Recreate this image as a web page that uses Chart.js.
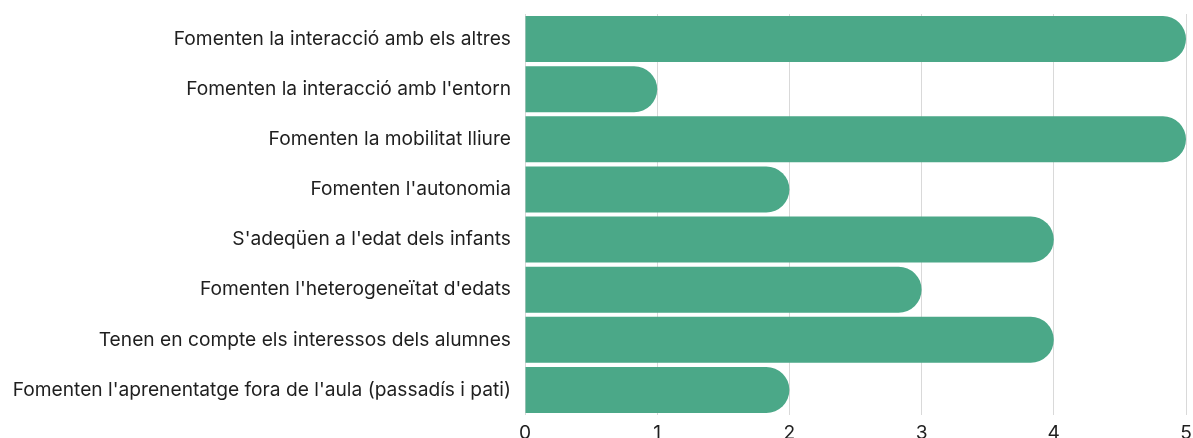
<!DOCTYPE html>
<html>
<head>
<meta charset="utf-8">
<script src="https://cdn.jsdelivr.net/npm/chart.js@4"></script>
<style>
html,body{margin:0;padding:0;background:#fff;}
#wrap{width:1193px;height:438px;}
</style>
</head>
<body>
<div id="wrap"><canvas id="c" width="1193" height="438"></canvas></div>
<script>
const categories = [
  "Fomenten la interacció amb els altres",
  "Fomenten la interacció amb l'entorn",
  "Fomenten la mobilitat lliure",
  "Fomenten l'autonomia",
  "S'adeqüen a l'edat dels infants",
  "Fomenten l'heterogeneïtat d'edats",
  "Tenen en compte els interessos dels alumnes",
  "Fomenten l'aprenentatge fora de l'aula (passadís i pati)"
];
const values = [5, 1, 5, 2, 4, 3, 4, 2];
const xTicks = [0, 1, 2, 3, 4, 5];

Chart.defaults.font.family = "Inter, 'Noto Sans', sans-serif";
Chart.defaults.color = "#1a1a1a";

function zeroPad(s) { s.paddingTop = 0; s.paddingBottom = 0; s.paddingLeft = 0; s.paddingRight = 0; }

new Chart(document.getElementById('c'), {
  type: 'bar',
  data: {
    labels: categories,
    datasets: [{
      data: values,
      backgroundColor: '#4ba888',
      borderWidth: 0,
      borderRadius: 999,
      borderSkipped: 'start',
      categoryPercentage: 1,
      barPercentage: 0.92
    }]
  },
  options: {
    indexAxis: 'y',
    responsive: false,
    animation: false,
    devicePixelRatio: 1,
    layout: { padding: { top: 14, right: 7, bottom: 0, left: 0 } },
    plugins: { legend: { display: false }, tooltip: { enabled: false } },
    scales: {
      x: {
        min: 0, max: 5,
        afterBuildTicks: s => { s.ticks = xTicks.map(v => ({ value: v })); },
        grid: { color: '#d9d9d9', drawTicks: false },
        border: { display: false },
        ticks: { font: { size: 19.2 }, color: '#1f1f1f', padding: 7 },
        afterFit: s => { s.height = 23; zeroPad(s); }
      },
      y: {
        grid: { display: false, drawTicks: false },
        border: { display: false },
        ticks: { font: { size: 19.2 }, color: '#1f1f1f', padding: 14 },
        afterFit: s => { s.width = 525; zeroPad(s); }
      }
    }
  }
});
</script>
</body>
</html>
